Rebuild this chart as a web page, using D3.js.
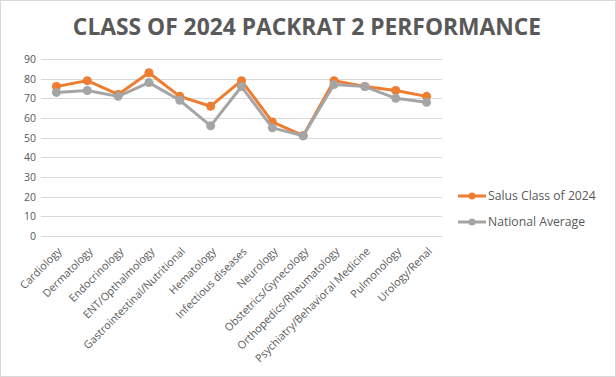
<!DOCTYPE html>
<html><head><meta charset="utf-8">
<script src="https://cdn.jsdelivr.net/npm/d3@7"></script>
<style>body{margin:0;background:#fff}svg{display:block}</style>
</head><body>
<svg id="c" width="616" height="377"></svg>
<script>
const categories = ["Cardiology","Dermatology","Endocrinology","ENT/Opthalmology","Gastrointestinal/Nutritional","Hematology","Infectious diseases","Neurology","Obstetrics/Gynecology","Orthopedics/Rheumatology","Psychiatry/Behavioral Medicine","Pulmonology","Urology/Renal"];
const salus = [76,79,72,83,71,66,79,58,51,79,76,74,71];
const national = [73,74,71,78,69,56,76,55,51,77,76,70,68];
const yTicks = [0,10,20,30,40,50,60,70,80,90];
const seriesNames = ["Salus Class of 2024","National Average"];
const colors = ["#ED7D31","#A5A5A5"];
const title = "CLASS OF 2024 PACKRAT 2 PERFORMANCE";

const svg = d3.select("#c");
const font = "'Open Sans', sans-serif";
svg.append("rect").attr("x",0.5).attr("y",0.5).attr("width",615).attr("height",376)
  .attr("fill","#fff").attr("stroke","#d9d9d9");

svg.append("text").attr("x",307).attr("y",35).attr("text-anchor","middle")
  .attr("font-family",font).attr("font-weight","bold").attr("font-size",22.8)
  .attr("fill","#595959").text(title);

const x = d3.scaleBand().domain(categories).range([41,442]);
const y = d3.scaleLinear().domain([0,90]).range([236,59]);

const grid = svg.append("g");
grid.selectAll("line").data(yTicks).join("line")
  .attr("x1",41).attr("x2",442).attr("y1",d=>Math.round(y(d))+0.5).attr("y2",d=>Math.round(y(d))+0.5)
  .attr("stroke","#d9d9d9").attr("stroke-width",1);

const yAxis = svg.append("g").attr("transform","translate(36,0)")
  .call(d3.axisLeft(y).tickValues(yTicks).tickSize(0).tickPadding(0));
yAxis.select(".domain").remove();
yAxis.selectAll("text").attr("font-family",font).attr("font-size",10.5).attr("fill","#595959");

const xAxis = svg.append("g").attr("transform","translate(0,236)")
  .call(d3.axisBottom(x).tickSize(0).tickPadding(0));
xAxis.select(".domain").remove();
xAxis.selectAll("text").attr("font-family",font).attr("font-size",10.8).attr("fill","#595959")
  .attr("text-anchor","end").attr("dy",null).attr("y",0)
  .attr("transform","translate(6,16) rotate(-45)");

const cx = d => x(d) + x.bandwidth()/2;
[salus, national].forEach((vals,i)=>{
  const line = d3.line().x((d,j)=>cx(categories[j])).y(d=>y(d));
  svg.append("path").datum(vals).attr("fill","none").attr("stroke",colors[i])
    .attr("stroke-width",3).attr("stroke-linejoin","round").attr("d",line);
  svg.append("g").selectAll("circle").data(vals).join("circle")
    .attr("cx",(d,j)=>cx(categories[j])).attr("cy",d=>y(d)).attr("r",4.5).attr("fill",colors[i]);
});
const legend = svg.append("g");
seriesNames.forEach((n,i)=>{
  const ly = 196 + i*26;
  legend.append("line").attr("x1",458).attr("x2",486).attr("y1",ly).attr("y2",ly)
    .attr("stroke",colors[i]).attr("stroke-width",3);
  legend.append("circle").attr("cx",472).attr("cy",ly).attr("r",3.5).attr("fill",colors[i]);
  legend.append("text").attr("x",488).attr("y",ly).attr("dy","0.35em")
    .attr("font-family",font).attr("font-size",12.2).attr("fill","#595959").text(n);
});
</script>
</body></html>
